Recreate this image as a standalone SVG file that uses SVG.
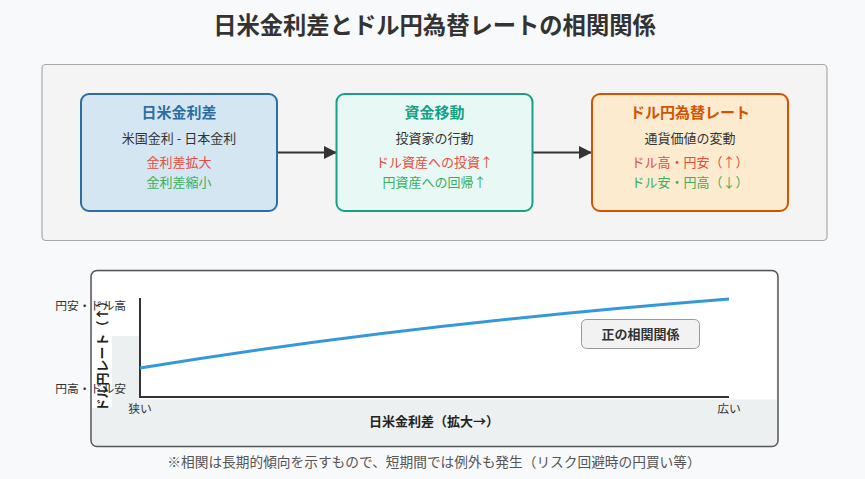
<svg xmlns="http://www.w3.org/2000/svg" width="865" height="479" viewBox="0 0 865 479">
<defs>
<style>
text{font-family:"Noto Sans CJK JP","Noto Sans",sans-serif;}
.title{font-size:23.3px;font-weight:bold;fill:#333;text-anchor:middle;}
.nt{font-size:15px;font-weight:bold;text-anchor:middle;}
.sub{font-size:13px;fill:#333;text-anchor:middle;}
.red{font-size:13px;fill:#e74c3c;text-anchor:middle;}
.grn{font-size:13px;fill:#3cae5c;text-anchor:middle;}
.tick{font-size:11.8px;fill:#333;}
.ax{font-size:13px;font-weight:bold;fill:#222;text-anchor:middle;}
.node{stroke-width:2;}
</style>
<marker id="ah" viewBox="0 0 10 10" refX="10" refY="5" markerWidth="20" markerHeight="13" markerUnits="userSpaceOnUse" orient="auto">
<path d="M0,0 L10,5 L0,10 z" fill="#333"/>
</marker>
</defs>
<rect x="0" y="0" width="865" height="479" fill="#f8f9fa"/>
<text class="title" x="434.5" y="34">日米金利差とドル円為替レートの相関関係</text>

<rect id="flow-panel" x="42" y="64.5" width="785" height="176" rx="4" fill="#f4f4f4" stroke="#a8a8a8" stroke-width="1.2"/>

<g id="connectors">
<line x1="278" y1="152.5" x2="337" y2="152.5" stroke="#333" stroke-width="2" marker-end="url(#ah)"/>
<line x1="533" y1="152.5" x2="592" y2="152.5" stroke="#333" stroke-width="2" marker-end="url(#ah)"/>
</g>

<g id="node-rate-diff">
<rect class="node" x="81" y="94" width="196" height="117" rx="8" fill="#d4e6f1" stroke="#2e6da4"/>
<text class="nt" x="179" y="118" fill="#2e6da4">日米金利差</text>
<text class="sub" x="179" y="143">米国金利 - 日本金利</text>
<text class="red" x="179" y="167">金利差拡大</text>
<text class="grn" x="179" y="187">金利差縮小</text>
</g>

<g id="node-capital">
<rect class="node" x="336.5" y="94" width="196" height="117" rx="8" fill="#e8f8f5" stroke="#16a085"/>
<text class="nt" x="434.5" y="118" fill="#16a085">資金移動</text>
<text class="sub" x="434.5" y="143">投資家の行動</text>
<text class="red" x="434.5" y="167">ドル資産への投資↑</text>
<text class="grn" x="434.5" y="187">円資産への回帰↑</text>
</g>

<g id="node-fx">
<rect class="node" x="592" y="94" width="196" height="117" rx="8" fill="#fdebd0" stroke="#d35400"/>
<text class="nt" x="690" y="118" fill="#d35400">ドル円為替レート</text>
<text class="sub" x="690" y="143">通貨価値の変動</text>
<text class="red" x="690" y="167">ドル高・円安（↑）</text>
<text class="grn" x="690" y="187">ドル安・円高（↓）</text>
</g>

<g id="chart">
<rect x="91" y="270.5" width="687" height="176" rx="6" fill="#edf0f1" stroke="#555" stroke-width="1.5"/>
<path d="M92.5,336 L92.5,276 Q92.5,272 97,272 L772,272 Q776.5,272 776.5,276 L776.5,399.5 L140,399.5 L140,336 Z" fill="#ffffff"/>
<rect x="92" y="336" width="20" height="72" fill="#ffffff"/>
<line x1="140" y1="298" x2="140" y2="397" stroke="#333" stroke-width="2"/>
<line x1="139" y1="397" x2="729" y2="397" stroke="#333" stroke-width="2"/>
<path d="M140,368 Q400,325 729,299" fill="none" stroke="#3498db" stroke-width="3"/>
<text class="tick" x="126" y="310" text-anchor="end">円安・ドル高</text>
<text class="tick" x="126" y="393" text-anchor="end">円高・ドル安</text>
<text class="ax" x="101" y="353" dominant-baseline="central" transform="rotate(-90 101 353)" font-size="12.5">ドル円レート（↑）</text>
<text class="tick" x="140" y="413" text-anchor="middle" font-size="11">狭い</text>
<text class="tick" x="729" y="413" text-anchor="middle" font-size="11">広い</text>
<text class="ax" x="434" y="426">日米金利差（拡大→）</text>
<g id="label-positive">
<rect x="581.5" y="319.5" width="118" height="29" rx="5" fill="#f2f2f2" stroke="#999" stroke-width="1"/>
<text x="640.5" y="339" text-anchor="middle" font-size="13" font-weight="bold" fill="#333">正の相関関係</text>
</g>
</g>

<text x="434" y="467" text-anchor="middle" font-size="13.7" fill="#555">※相関は長期的傾向を示すもので、短期間では例外も発生（リスク回避時の円買い等）</text>
</svg>
